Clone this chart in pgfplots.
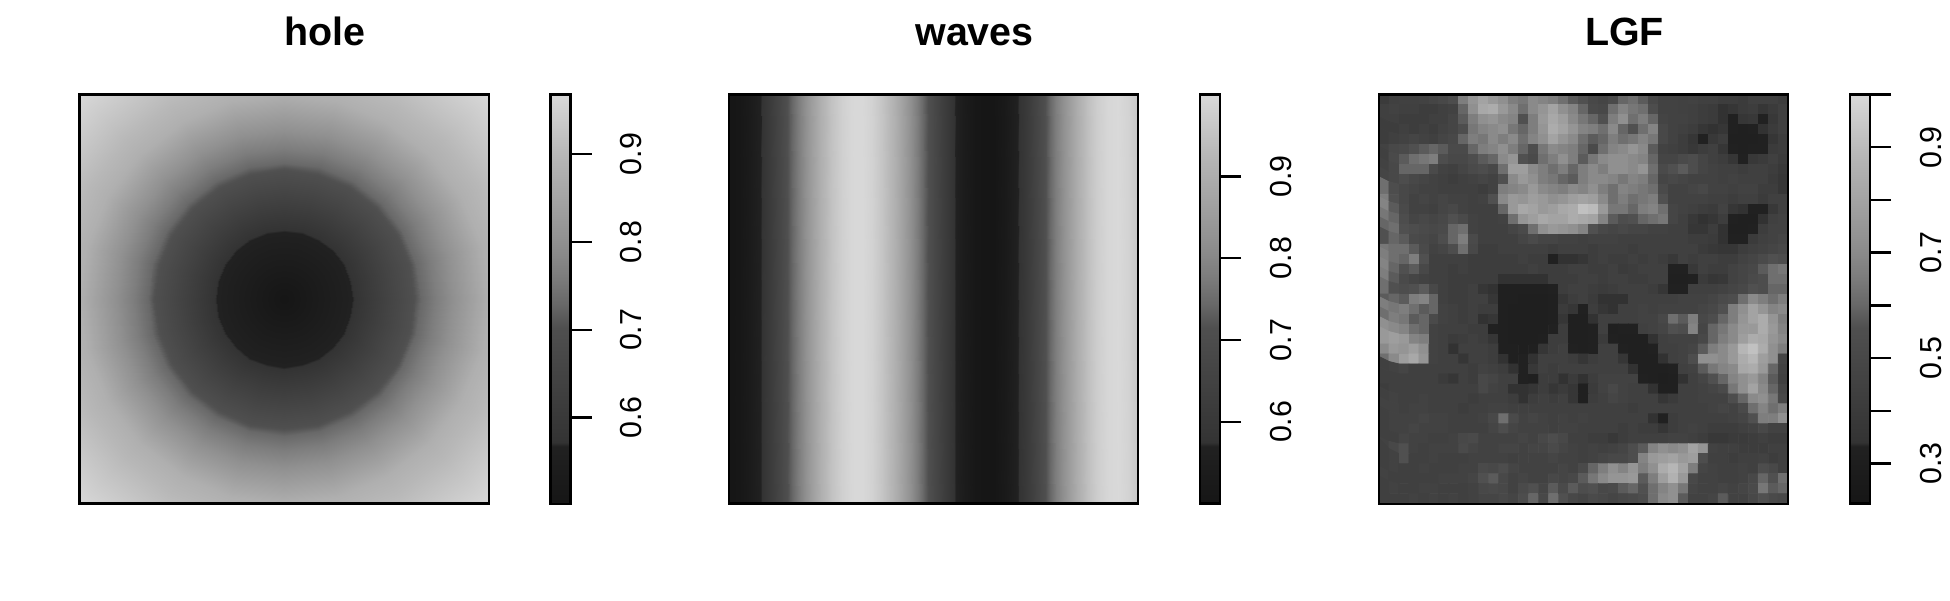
\documentclass[border=0pt]{standalone}
\usepackage{fontspec}
\setmainfont{Liberation Sans}
\usepackage{pgfplots}
\pgfplotsset{compat=1.18}

% grey ramp, position is percent of the bar
\pgfplotsset{
  colormap={rgrey}{gray(0cm)=(0.085); gray(14cm)=(0.13); gray(15cm)=(0.20); gray(43cm)=(0.31);
    gray(49cm)=(0.41); gray(55.7cm)=(0.49); gray(64cm)=(0.565); gray(85.5cm)=(0.72); gray(100cm)=(0.85)},
  panel/.style={
    scale only axis, width=204.6pt, height=204.6pt,
    ticks=none, axis line style={line width=1.2pt}, axis on top,
    enlargelimits=false, colormap name=rgrey, colorbar,
    title style={at={(0.6,1)}, anchor=base, yshift=18.5pt, font=\fontsize{19.7}{22}\selectfont\bfseries},
  },
  bar/.style={
    at={(parent axis.right of north east)}, anchor=north west, xshift=21.8pt,
    scale only axis, width=10pt, height=204.6pt,
    axis line style={line width=1.2pt}, axis on top,
    ytick pos=right, tick align=outside, major tick length=10.5pt,
    tick style={line width=1.2pt, black},
    yticklabel style={rotate=90, anchor=north, inner sep=0pt, yshift=-14.3pt, font=\fontsize{15.2}{17}\selectfont},
  },
}

\begin{document}
\begin{tikzpicture}
\path[use as bounding box] (0pt,0pt) rectangle (975pt,300pt);

\begin{axis}[panel, at={(39.8pt,48.15pt)}, title={hole}, xmin=-1, xmax=1, ymin=-1, ymax=1,
  point meta min=0.502, point meta max=0.968,
  colorbar style={bar, ytick={0.6,0.7,0.8,0.9}, yticklabels={0.6,0.7,0.8,0.9}}]
% rings around the centre of the hole, 15 degrees apart: x y value
\addplot[surf, shader=interp, mesh/cols=25, point meta=explicit] table[row sep=crcr, header=false, meta index=2] {
0 0 .502\\0 0 .502\\0 0 .502\\0 0 .502\\0 0 .502\\0 0 .502\\0 0 .502\\0 0 .502\\0 0 .502\\0 0 .502\\0 0 .502\\0 0 .502\\0 0 .502\\0 0 .502\\0 0 .502\\0 0 .502\\0 0 .502\\0 0 .502\\0 0 .502\\0 0 .502\\0 0 .502\\0 0 .502\\0 0 .502\\0 0 .502\\0 0 .502\\
.33 0 .567\\.319 .085 .567\\.286 .165 .567\\.233 .233 .567\\.165 .286 .567\\.085 .319 .567\\0 .33 .567\\-.085 .319 .567\\-.165 .286 .567\\-.233 .233 .567\\-.286 .165 .567\\-.319 .085 .567\\-.33 0 .567\\-.319 -.085 .567\\-.286 -.165 .567\\-.233 -.233 .567\\-.165 -.286 .567\\-.085 -.319 .567\\0 -.33 .567\\.085 -.319 .567\\.165 -.286 .567\\.233 -.233 .567\\.286 -.165 .567\\.319 -.085 .567\\.33 0 .567\\
.64 0 .707\\.618 .166 .707\\.554 .32 .707\\.452 .452 .707\\.32 .554 .707\\.166 .618 .707\\0 .64 .707\\-.166 .618 .707\\-.32 .554 .707\\-.452 .452 .707\\-.554 .32 .707\\-.618 .166 .707\\-.64 0 .707\\-.618 -.166 .707\\-.554 -.32 .707\\-.452 -.452 .707\\-.32 -.554 .707\\-.166 -.618 .707\\0 -.64 .707\\.166 -.618 .707\\.32 -.554 .707\\.452 -.452 .707\\.554 -.32 .707\\.618 -.166 .707\\.64 0 .707\\
.667 0 .730\\.644 .173 .730\\.578 .334 .730\\.472 .472 .730\\.334 .578 .730\\.173 .644 .730\\0 .667 .730\\-.173 .644 .730\\-.334 .578 .730\\-.472 .472 .730\\-.578 .334 .730\\-.644 .173 .730\\-.667 0 .730\\-.644 -.173 .730\\-.578 -.334 .730\\-.472 -.472 .730\\-.334 -.578 .730\\-.173 -.644 .730\\0 -.667 .730\\.173 -.644 .730\\.334 -.578 .730\\.472 -.472 .730\\.578 -.334 .730\\.644 -.173 .730\\.667 0 .730\\
1 0 .879\\.966 .259 .879\\.866 .5 .879\\.707 .707 .879\\.5 .866 .879\\.259 .966 .879\\0 1 .879\\-.259 .966 .879\\-.5 .866 .879\\-.707 .707 .879\\-.866 .5 .879\\-.966 .259 .879\\-1 0 .879\\-.966 -.259 .879\\-.866 -.5 .879\\-.707 -.707 .879\\-.5 -.866 .879\\-.259 -.966 .879\\0 -1 .879\\.259 -.966 .879\\.5 -.866 .879\\.707 -.707 .879\\.866 -.5 .879\\.966 -.259 .879\\1 0 .879\\
1.2 0 .922\\1.159 .311 .922\\1.039 .6 .922\\.848 .848 .922\\.6 1.039 .922\\.311 1.159 .922\\0 1.2 .922\\-.311 1.159 .922\\-.6 1.039 .922\\-.848 .848 .922\\-1.039 .6 .922\\-1.159 .311 .922\\-1.2 0 .922\\-1.159 -.311 .922\\-1.039 -.6 .922\\-.848 -.848 .922\\-.6 -1.039 .922\\-.311 -1.159 .922\\0 -1.2 .922\\.311 -1.159 .922\\.6 -1.039 .922\\.848 -.848 .922\\1.039 -.6 .922\\1.159 -.311 .922\\1.2 0 .922\\
1.42 0 .968\\1.372 .368 .968\\1.23 .71 .968\\1.004 1.004 .968\\.71 1.23 .968\\.368 1.372 .968\\0 1.42 .968\\-.368 1.372 .968\\-.71 1.23 .968\\-1.004 1.004 .968\\-1.23 .71 .968\\-1.372 .368 .968\\-1.42 0 .968\\-1.372 -.368 .968\\-1.23 -.71 .968\\-1.004 -1.004 .968\\-.71 -1.23 .968\\-.368 -1.372 .968\\0 -1.42 .968\\.368 -1.372 .968\\.71 -1.23 .968\\1.004 -1.004 .968\\1.23 -.71 .968\\1.372 -.368 .968\\1.42 0 .968\\
};
\end{axis}

\begin{axis}[panel, at={(364.5pt,48.15pt)}, title={waves}, xmin=0, xmax=40, ymin=0, ymax=1,
  point meta min=0.5, point meta max=1,
  colorbar style={bar, ytick={0.6,0.7,0.8,0.9}, yticklabels={0.6,0.7,0.8,0.9}}]
\addplot[surf, shader=interp, mesh/cols=41, point meta=explicit] table[row sep=crcr, header=false,
  x expr={mod(\coordindex,41)}, y expr={int(\coordindex/41)}, meta index=0] {
.500\\.508\\.530\\.567\\.615\\.670\\.731\\.793\\.853\\.906\\.949\\.980\\.997\\.999\\.985\\.956\\.915\\.864\\.806\\.744\\.682\\.625\\.576\\.537\\.511\\.500\\.505\\.525\\.559\\.604\\.659\\.719\\.781\\.841\\.896\\.942\\.975\\.995\\1.00\\.988\\.961\\
.500\\.508\\.530\\.567\\.615\\.670\\.731\\.793\\.853\\.906\\.949\\.980\\.997\\.999\\.985\\.956\\.915\\.864\\.806\\.744\\.682\\.625\\.576\\.537\\.511\\.500\\.505\\.525\\.559\\.604\\.659\\.719\\.781\\.841\\.896\\.942\\.975\\.995\\1.00\\.988\\.961\\
};
\end{axis}

\begin{axis}[panel, at={(689.5pt,48.15pt)}, title={LGF}, xmin=-0.5, xmax=40.5, ymin=-0.5, ymax=40.5, y dir=reverse,
  point meta min=0.224, point meta max=1,
  colorbar style={bar, y dir=normal, ytick={0.3,0.4,0.5,0.6,0.7,0.8,0.9,1}, yticklabels={0.3,,0.5,,0.7,,0.9,}}]
% rows run from the top of the panel, values in percent
\addplot[matrix plot*, mesh/cols=41, point meta=explicit] table[row sep=crcr, header=false,
  x expr={mod(\coordindex,41)}, y expr={int(\coordindex/41)}, meta expr={\thisrowno{0}/100}] {
40\\44\\45\\45\\46\\48\\50\\54\\66\\74\\80\\76\\72\\66\\64\\70\\68\\66\\62\\58\\56\\50\\48\\52\\60\\62\\58\\50\\46\\46\\45\\46\\44\\44\\42\\42\\40\\44\\44\\44\\42\\
44\\46\\44\\44\\42\\42\\44\\46\\60\\72\\82\\84\\76\\70\\62\\70\\74\\80\\72\\68\\60\\52\\50\\62\\68\\64\\62\\54\\46\\46\\45\\44\\42\\40\\34\\36\\40\\42\\36\\40\\44\\
44\\44\\42\\42\\42\\44\\44\\48\\58\\66\\72\\74\\70\\68\\56\\66\\76\\82\\78\\70\\64\\60\\56\\66\\72\\62\\66\\60\\47\\46\\46\\44\\42\\40\\34\\33\\36\\38\\33\\38\\44\\
42\\42\\44\\42\\44\\42\\46\\48\\54\\64\\68\\70\\72\\64\\60\\66\\74\\84\\80\\74\\68\\66\\62\\70\\60\\56\\62\\68\\50\\46\\44\\42\\36\\34\\36\\33\\32\\33\\34\\40\\44\\
42\\44\\46\\48\\46\\44\\48\\50\\60\\66\\64\\70\\66\\70\\62\\68\\72\\80\\74\\70\\62\\58\\60\\66\\62\\64\\68\\64\\50\\46\\42\\36\\33\\38\\42\\32\\32\\32\\33\\36\\42\\
46\\50\\52\\56\\58\\60\\58\\52\\52\\60\\66\\68\\72\\66\\60\\54\\64\\70\\68\\66\\60\\52\\62\\68\\70\\74\\70\\58\\46\\44\\42\\38\\42\\44\\36\\33\\32\\33\\33\\40\\42\\
44\\52\\58\\62\\64\\66\\54\\50\\50\\54\\58\\60\\70\\74\\56\\52\\62\\66\\72\\66\\58\\64\\70\\72\\72\\70\\68\\60\\48\\48\\52\\54\\48\\44\\42\\36\\33\\38\\40\\44\\40\\
46\\50\\60\\60\\60\\52\\46\\44\\48\\52\\54\\50\\62\\78\\78\\70\\66\\62\\66\\60\\66\\70\\66\\72\\72\\70\\74\\62\\52\\56\\58\\54\\48\\46\\44\\44\\42\\44\\44\\42\\38\\
48\\50\\54\\50\\48\\46\\44\\42\\44\\46\\48\\46\\56\\70\\76\\72\\66\\64\\60\\58\\66\\70\\70\\68\\64\\68\\66\\60\\48\\50\\48\\46\\46\\46\\44\\46\\44\\44\\44\\40\\36\\
62\\54\\50\\48\\46\\46\\44\\44\\44\\44\\42\\46\\66\\68\\70\\76\\70\\68\\66\\70\\68\\72\\66\\62\\68\\66\\64\\62\\52\\46\\46\\48\\50\\46\\46\\44\\46\\46\\42\\42\\36\\
66\\56\\50\\46\\48\\46\\48\\46\\46\\44\\46\\56\\70\\76\\74\\78\\76\\72\\74\\78\\80\\78\\70\\62\\66\\62\\64\\66\\56\\46\\46\\46\\46\\44\\44\\42\\44\\44\\40\\44\\44\\
68\\58\\52\\46\\46\\44\\48\\50\\46\\44\\44\\44\\60\\76\\82\\80\\76\\78\\82\\84\\92\\90\\76\\64\\64\\60\\66\\68\\62\\48\\46\\44\\42\\40\\46\\36\\34\\33\\33\\38\\44\\
64\\60\\54\\48\\50\\48\\50\\56\\52\\46\\44\\44\\46\\62\\74\\78\\82\\80\\80\\84\\82\\80\\68\\58\\54\\56\\60\\62\\64\\48\\44\\38\\34\\36\\42\\33\\32\\32\\34\\44\\46\\
60\\62\\56\\54\\52\\50\\52\\60\\62\\46\\44\\44\\44\\48\\52\\62\\72\\76\\74\\72\\68\\56\\50\\48\\50\\48\\48\\46\\46\\44\\44\\36\\36\\42\\34\\32\\32\\33\\42\\46\\46\\
56\\60\\58\\52\\50\\48\\54\\60\\66\\52\\44\\44\\44\\44\\48\\52\\48\\48\\46\\46\\44\\46\\46\\46\\44\\44\\44\\44\\44\\44\\44\\42\\42\\40\\34\\33\\33\\40\\44\\46\\48\\
64\\62\\62\\58\\52\\46\\48\\54\\62\\50\\42\\42\\44\\44\\44\\44\\44\\42\\44\\44\\44\\42\\44\\44\\44\\42\\44\\44\\44\\44\\44\\44\\40\\38\\36\\36\\42\\44\\46\\48\\50\\
66\\62\\60\\66\\56\\44\\44\\44\\44\\42\\42\\42\\42\\42\\44\\42\\42\\33\\34\\34\\36\\42\\44\\42\\42\\44\\42\\44\\42\\38\\44\\42\\44\\44\\42\\42\\46\\48\\52\\56\\54\\
68\\60\\56\\58\\50\\44\\44\\42\\44\\42\\42\\42\\42\\42\\42\\44\\42\\42\\42\\44\\44\\42\\42\\44\\40\\42\\44\\44\\44\\33\\33\\38\\44\\42\\42\\46\\48\\50\\58\\62\\64\\
66\\58\\52\\48\\46\\44\\44\\42\\42\\42\\42\\42\\34\\34\\34\\34\\34\\42\\42\\42\\44\\44\\42\\44\\44\\42\\42\\44\\44\\32\\32\\33\\40\\36\\38\\46\\48\\52\\54\\62\\62\\
62\\56\\54\\56\\58\\50\\44\\42\\42\\44\\36\\34\\32\\32\\32\\32\\32\\33\\42\\44\\44\\42\\40\\42\\44\\44\\44\\42\\36\\33\\33\\44\\44\\44\\46\\48\\50\\56\\54\\60\\60\\
58\\60\\58\\66\\68\\60\\44\\42\\42\\44\\44\\36\\32\\32\\31\\31\\31\\32\\36\\42\\44\\40\\34\\34\\34\\44\\44\\44\\44\\44\\46\\46\\46\\48\\52\\54\\62\\70\\66\\62\\66\\
66\\64\\66\\62\\58\\60\\46\\44\\42\\44\\42\\42\\32\\31\\31\\31\\31\\32\\40\\36\\33\\42\\36\\34\\44\\44\\46\\44\\46\\46\\46\\46\\48\\50\\56\\66\\72\\80\\74\\68\\70\\
62\\66\\64\\58\\60\\52\\46\\44\\42\\44\\34\\36\\32\\31\\31\\31\\31\\32\\36\\32\\32\\34\\44\\44\\44\\44\\46\\46\\50\\62\\58\\66\\50\\54\\60\\66\\74\\80\\84\\74\\66\\
72\\70\\68\\62\\60\\46\\44\\44\\44\\42\\42\\33\\32\\31\\31\\31\\31\\33\\42\\32\\32\\33\\44\\32\\33\\33\\44\\46\\48\\56\\54\\68\\48\\60\\64\\70\\76\\76\\84\\76\\68\\
76\\78\\76\\68\\66\\46\\44\\40\\42\\44\\42\\36\\32\\31\\31\\31\\32\\42\\42\\32\\32\\33\\40\\33\\32\\32\\32\\34\\44\\46\\46\\46\\50\\60\\66\\70\\78\\84\\82\\74\\70\\
70\\76\\74\\78\\72\\46\\44\\34\\44\\44\\44\\42\\32\\32\\31\\32\\36\\42\\44\\33\\32\\33\\44\\44\\33\\32\\32\\33\\44\\44\\46\\48\\58\\66\\70\\76\\88\\92\\84\\72\\66\\
62\\70\\78\\82\\74\\46\\44\\44\\36\\44\\44\\42\\34\\32\\33\\34\\44\\44\\44\\42\\36\\42\\44\\44\\36\\32\\32\\32\\34\\44\\46\\54\\72\\72\\70\\76\\84\\88\\78\\72\\48\\
44\\46\\48\\44\\44\\44\\44\\44\\44\\42\\46\\44\\42\\34\\33\\38\\44\\42\\44\\44\\44\\44\\44\\44\\44\\34\\32\\32\\32\\33\\44\\46\\58\\64\\68\\70\\82\\84\\76\\60\\46\\
44\\44\\44\\44\\44\\44\\40\\36\\44\\42\\50\\48\\44\\44\\33\\32\\42\\42\\34\\40\\34\\42\\46\\46\\46\\46\\33\\32\\31\\32\\34\\44\\48\\56\\60\\68\\72\\76\\68\\58\\44\\
42\\44\\44\\44\\44\\44\\44\\44\\44\\44\\50\\46\\44\\34\\34\\36\\42\\36\\40\\36\\32\\40\\46\\50\\46\\44\\44\\34\\32\\32\\44\\44\\46\\48\\52\\64\\72\\80\\70\\60\\48\\
44\\46\\44\\44\\46\\44\\44\\44\\44\\42\\44\\44\\44\\42\\34\\42\\44\\42\\44\\36\\32\\42\\44\\48\\46\\44\\44\\44\\36\\40\\44\\44\\46\\46\\46\\54\\60\\70\\72\\64\\50\\
46\\46\\44\\46\\46\\44\\44\\44\\42\\44\\44\\46\\46\\44\\44\\44\\44\\44\\44\\44\\44\\44\\44\\44\\44\\42\\44\\44\\44\\44\\44\\44\\44\\46\\48\\46\\52\\62\\68\\62\\66\\
44\\46\\46\\46\\48\\46\\46\\44\\44\\44\\46\\50\\62\\52\\46\\48\\46\\44\\46\\44\\46\\44\\44\\44\\44\\44\\44\\34\\33\\42\\44\\44\\44\\44\\44\\46\\48\\56\\66\\66\\72\\
44\\46\\46\\48\\46\\46\\46\\44\\44\\44\\44\\48\\54\\48\\46\\46\\46\\44\\46\\46\\44\\44\\44\\44\\42\\44\\42\\42\\36\\42\\44\\46\\44\\42\\42\\42\\44\\46\\50\\46\\46\\
44\\44\\48\\46\\46\\44\\44\\46\\50\\52\\46\\46\\46\\46\\48\\46\\50\\54\\50\\44\\44\\42\\42\\38\\42\\44\\44\\44\\44\\46\\46\\44\\42\\38\\38\\40\\40\\42\\44\\42\\42\\
46\\50\\56\\46\\44\\46\\46\\46\\52\\48\\46\\46\\48\\48\\46\\48\\48\\52\\48\\46\\44\\46\\44\\46\\48\\54\\58\\68\\72\\70\\72\\80\\74\\46\\44\\44\\42\\42\\42\\44\\44\\
44\\46\\56\\44\\44\\46\\44\\44\\44\\46\\46\\46\\46\\44\\46\\46\\46\\48\\46\\46\\44\\46\\48\\50\\50\\54\\68\\76\\78\\80\\76\\78\\54\\44\\44\\42\\44\\44\\46\\42\\44\\
44\\46\\44\\44\\46\\44\\44\\44\\46\\46\\52\\50\\54\\48\\46\\46\\46\\46\\48\\46\\52\\60\\66\\72\\68\\74\\66\\72\\84\\88\\80\\66\\48\\46\\44\\44\\46\\44\\54\\50\\44\\
46\\44\\44\\44\\44\\44\\46\\46\\46\\48\\56\\58\\50\\46\\48\\46\\46\\50\\48\\50\\58\\64\\70\\74\\74\\76\\58\\66\\78\\86\\76\\50\\46\\46\\44\\44\\46\\50\\60\\56\\62\\
44\\46\\44\\44\\46\\46\\44\\44\\44\\46\\50\\52\\50\\46\\52\\56\\48\\58\\52\\58\\54\\56\\50\\52\\58\\60\\56\\62\\68\\72\\64\\48\\46\\46\\48\\46\\48\\52\\64\\58\\60\\
44\\44\\44\\46\\44\\46\\44\\46\\44\\46\\48\\48\\50\\48\\54\\60\\50\\62\\56\\50\\48\\52\\50\\48\\50\\52\\54\\62\\70\\72\\58\\46\\46\\48\\58\\46\\46\\50\\56\\52\\50\\
};
\end{axis}
\end{tikzpicture}
\end{document}
